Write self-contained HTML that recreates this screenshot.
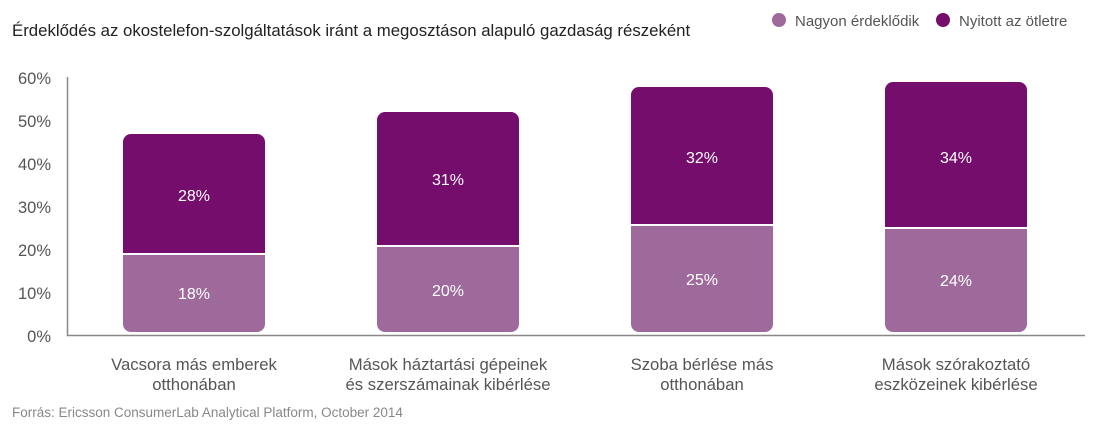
<!DOCTYPE html>
<html><head><meta charset="utf-8"><style>
body{margin:0;background:#fff}
svg{display:block;font-family:"Liberation Sans",Arial,sans-serif}
</style></head><body>
<svg width="1101" height="439" viewBox="0 0 1101 439">
<text x="12" y="36" font-size="16.8" fill="#222">Érdeklődés az okostelefon-szolgáltatások iránt a megosztáson alapuló gazdaság részeként</text>
<circle cx="779" cy="20" r="7" fill="#9E6A9B"/>
<text x="795" y="26" font-size="15" fill="#555">Nagyon érdeklődik</text>
<circle cx="943" cy="20" r="7" fill="#750D6C"/>
<text x="959" y="26" font-size="15" fill="#555">Nyitott az ötletre</text>
<g font-size="16.5" fill="#555" text-anchor="end">
<text x="51" y="84">60%</text><text x="51" y="127">50%</text><text x="51" y="170">40%</text>
<text x="51" y="213">30%</text><text x="51" y="256">20%</text><text x="51" y="299">10%</text><text x="51" y="342">0%</text>
</g>
<path d="M67.5 77V335.5H1085" stroke="#888" stroke-width="1.5" fill="none"/>
<g>
<path d="M123 134h134a8 8 0 0 1 8 8V253H123V142a8 8 0 0 1 8-8z" fill="#750D6C"/>
<path d="M123 255h142v69a8 8 0 0 1-8 8H131a8 8 0 0 1-8-8z" fill="#9E6A9B"/>
<path d="M377 112h134a8 8 0 0 1 8 8V245H377V120a8 8 0 0 1 8-8z" fill="#750D6C"/>
<path d="M377 247h142v77a8 8 0 0 1-8 8H385a8 8 0 0 1-8-8z" fill="#9E6A9B"/>
<path d="M631 87h134a8 8 0 0 1 8 8V224H631V95a8 8 0 0 1 8-8z" fill="#750D6C"/>
<path d="M631 226h142v98a8 8 0 0 1-8 8H639a8 8 0 0 1-8-8z" fill="#9E6A9B"/>
<path d="M885 82h134a8 8 0 0 1 8 8V227H885V90a8 8 0 0 1 8-8z" fill="#750D6C"/>
<path d="M885 229h142v95a8 8 0 0 1-8 8H893a8 8 0 0 1-8-8z" fill="#9E6A9B"/>
</g>
<g font-size="16" fill="#fff" text-anchor="middle">
<text x="194" y="201">28%</text><text x="194" y="299">18%</text>
<text x="448" y="185">31%</text><text x="448" y="296">20%</text>
<text x="702" y="163">32%</text><text x="702" y="285">25%</text>
<text x="956" y="163">34%</text><text x="956" y="286">24%</text>
</g>
<g font-size="16.7" fill="#555" text-anchor="middle">
<text x="194" y="370">Vacsora más emberek</text><text x="194" y="390">otthonában</text>
<text x="448" y="370">Mások háztartási gépeinek</text><text x="448" y="390">és szerszámainak kibérlése</text>
<text x="702" y="370">Szoba bérlése más</text><text x="702" y="390">otthonában</text>
<text x="956" y="370">Mások szórakoztató</text><text x="956" y="390">eszközeinek kibérlése</text>
</g>
<text x="12" y="417" font-size="13.5" fill="#888">Forrás:  Ericsson ConsumerLab Analytical Platform, October 2014</text>
</svg>
</body></html>
